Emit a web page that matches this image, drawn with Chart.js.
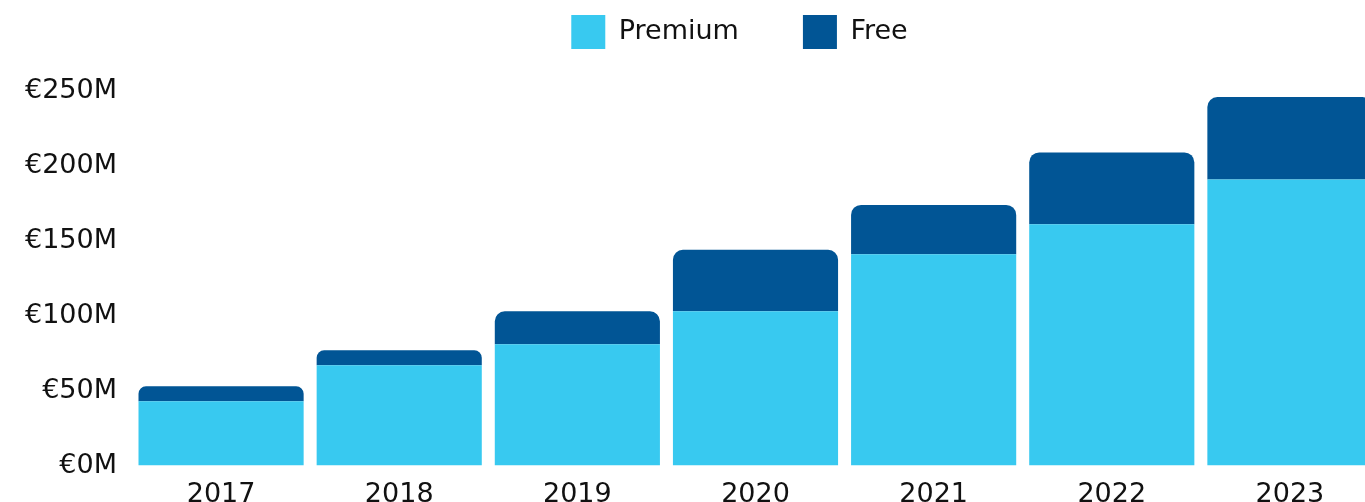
<!DOCTYPE html>
<html>
<head>
<meta charset="utf-8">
<script src="https://cdn.jsdelivr.net/npm/chart.js@4"></script>
<style>
  html, body { margin: 0; padding: 0; overflow: hidden; background: #fff; }
  #wrap { position: relative; width: 1379px; height: 516px; }
</style>
</head>
<body>
<div id="wrap"><canvas id="revenue"></canvas></div>
<script>
// revenue by year, in millions of euro
var years = ['2017', '2018', '2019', '2020', '2021', '2022', '2023'];
var premium = [43, 67, 81, 103, 141, 161, 191];
var free = [10, 10, 22, 41, 33, 48, 55];
var yTicks = [0, 50, 100, 150, 200, 250];

var fontFamily = "'DejaVu Sans', sans-serif";

// more room under the legend, and nudge it right like the original
var legendTweak = {
    id: 'legendTweak',
    afterInit: function (chart) {
        var fit = chart.legend.fit;
        chart.legend.fit = function () {
            fit.call(this);
            this.height += 32;
        };
    },
    afterLayout: function (chart) {
        chart.legend.left += 50;
        chart.legend.right += 50;
    }
};

var ctx = document.getElementById('revenue').getContext('2d');
var revenueChart = new Chart(ctx, {
    type: 'bar',
    data: {
        labels: years,
        datasets: [{
            label: 'Premium',
            data: premium,
            backgroundColor: '#38C9F0',
            borderRadius: 0,
            barPercentage: 1,
            categoryPercentage: 0.927
        }, {
            label: 'Free',
            data: free,
            backgroundColor: '#015595',
            borderRadius: 10,
            barPercentage: 1,
            categoryPercentage: 0.927
        }]
    },
    options: {
        responsive: true,
        maintainAspectRatio: false,
        animation: false,
        layout: { padding: { top: -49 } },
        plugins: {
            legend: {
                position: 'top',
                labels: {
                    boxWidth: 34,
                    boxHeight: 34,
                    padding: 64,
                    color: '#111',
                    font: { family: fontFamily, size: 27 }
                }
            },
            tooltip: { enabled: false }
        },
        scales: {
            x: {
                stacked: true,
                grid: { display: false },
                border: { display: false },
                ticks: {
                    color: '#111',
                    padding: 5,
                    font: { family: fontFamily, size: 27 }
                }
            },
            y: {
                stacked: true,
                min: 0,
                max: 250,
                afterBuildTicks: function (axis) {
                    axis.ticks = yTicks.map(function (v) { return { value: v }; });
                },
                afterFit: function (axis) {
                    axis.width = 132;
                },
                grid: { display: false },
                border: { display: false },
                ticks: {
                    color: '#111',
                    padding: 7,
                    font: { family: fontFamily, size: 27 },
                    callback: function (v) { return '€' + v + 'M'; }
                }
            }
        }
    },
    plugins: [legendTweak]
});
</script>
</body>
</html>
